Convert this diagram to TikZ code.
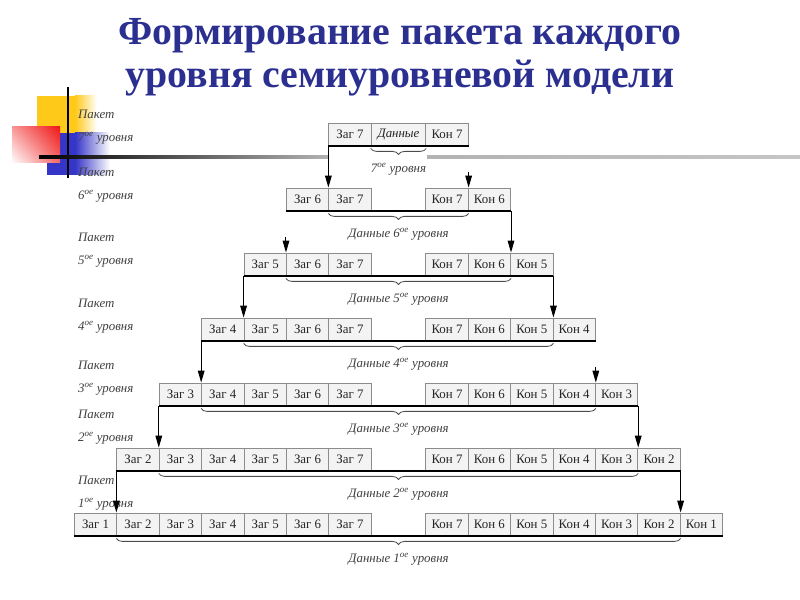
\documentclass[tikz,border=0pt]{standalone}
\usepackage{fontspec}
\setmainfont{Liberation Serif}
\usetikzlibrary{arrows.meta,calc,decorations.pathreplacing,shadings}
\definecolor{titelblue}{HTML}{2B2F8F}
\definecolor{paketbox}{HTML}{F3F3F3}
\definecolor{paketline}{HTML}{8C8C8C}
\definecolor{gelbdeko}{HTML}{FFC91A}
\definecolor{blaudeko}{HTML}{3535C8}
\definecolor{rotdeko}{HTML}{F01818}

\begin{document}
\begin{tikzpicture}[x=0.03cm, y=0.03cm,
  every node/.style={font=\fontsize{11}{13}\selectfont},
  titel/.style={font=\fontsize{34}{37}\selectfont\bfseries, text=titelblue, align=center},
  zelle/.style={draw=paketline, fill=paketbox, line width=0.25mm, minimum width=1.272cm,
    minimum height=0.69cm, inner sep=0pt, text=black!85},
  daten/.style={zelle, minimum width=1.638cm, font=\fontsize{11}{13}\selectfont\itshape},
  boden/.style={line width=0.6mm, black},
  rel/.style={-{Triangle[length=3.6mm, width=2mm]}, line width=0.3mm, black},
  klammer/.style={decorate, decoration={brace, mirror, amplitude=1.8mm}, line width=0.25mm, black!70},
  lbl/.style={font=\fontsize{11}{13}\selectfont\itshape, text=black!75},
  pakettext/.style={font=\fontsize{11}{19.5}\selectfont\itshape, align=left, anchor=west, text=black!75}
]
\useasboundingbox (0,0) rectangle (800,-600);
\fill[gelbdeko] (37,-96) rectangle (75,-133);
\shade[left color=gelbdeko, right color=white] (75,-96) rectangle (97,-133);
\fill[blaudeko] (47,-133) rectangle (75,-175);
\shade[left color=blaudeko, right color=white] (75,-133) rectangle (110,-175);
\shade[upper right=rotdeko, upper left=rotdeko!45, lower right=rotdeko!65, lower left=white] (12,-127) rectangle (60,-163);
\draw[line width=0.6mm, black] (68,-87) -- (68,-178);
\shade[left color=black, right color=gray!60] (39,-156) rectangle (329,-158.5);
\shade[left color=gray!60, right color=gray!45] (427,-156) rectangle (800,-158.5);
\node[titel] (Titel) at (400,-57) {Формирование пакета каждого\\уровня семиуровневой модели};
\node[pakettext] (Paket7) at (74,-127) {Пакет\\7\textsuperscript{ое} уровня};
\node[pakettext] (Paket6) at (74,-185) {Пакет\\6\textsuperscript{ое} уровня};
\node[pakettext] (Paket5) at (74,-250) {Пакет\\5\textsuperscript{ое} уровня};
\node[pakettext] (Paket4) at (74,-316) {Пакет\\4\textsuperscript{ое} уровня};
\node[pakettext] (Paket3) at (74,-378) {Пакет\\3\textsuperscript{ое} уровня};
\node[pakettext] (Paket2) at (74,-427) {Пакет\\2\textsuperscript{ое} уровня};
\node[pakettext] (Paket1) at (74,-493) {Пакет\\1\textsuperscript{ое} уровня};
\node[zelle] (Zag77) at (350.0,-134.5) {Заг 7};
\node[daten] (Dannye7) at (398.5,-134.5) {Данные};
\node[zelle] (Kon77) at (447.0,-134.5) {Кон 7};
\node[zelle] (Zag66) at (307.6,-199.5) {Заг 6};
\node[zelle] (Zag67) at (350.0,-199.5) {Заг 7};
\node[zelle] (Kon67) at (447.0,-199.5) {Кон 7};
\node[zelle] (Kon66) at (489.4,-199.5) {Кон 6};
\node[zelle] (Zag55) at (265.2,-264.5) {Заг 5};
\node[zelle] (Zag56) at (307.6,-264.5) {Заг 6};
\node[zelle] (Zag57) at (350.0,-264.5) {Заг 7};
\node[zelle] (Kon57) at (447.0,-264.5) {Кон 7};
\node[zelle] (Kon56) at (489.4,-264.5) {Кон 6};
\node[zelle] (Kon55) at (531.8,-264.5) {Кон 5};
\node[zelle] (Zag44) at (222.8,-329.5) {Заг 4};
\node[zelle] (Zag45) at (265.2,-329.5) {Заг 5};
\node[zelle] (Zag46) at (307.6,-329.5) {Заг 6};
\node[zelle] (Zag47) at (350.0,-329.5) {Заг 7};
\node[zelle] (Kon47) at (447.0,-329.5) {Кон 7};
\node[zelle] (Kon46) at (489.4,-329.5) {Кон 6};
\node[zelle] (Kon45) at (531.8,-329.5) {Кон 5};
\node[zelle] (Kon44) at (574.2,-329.5) {Кон 4};
\node[zelle] (Zag33) at (180.4,-394.5) {Заг 3};
\node[zelle] (Zag34) at (222.8,-394.5) {Заг 4};
\node[zelle] (Zag35) at (265.2,-394.5) {Заг 5};
\node[zelle] (Zag36) at (307.6,-394.5) {Заг 6};
\node[zelle] (Zag37) at (350.0,-394.5) {Заг 7};
\node[zelle] (Kon37) at (447.0,-394.5) {Кон 7};
\node[zelle] (Kon36) at (489.4,-394.5) {Кон 6};
\node[zelle] (Kon35) at (531.8,-394.5) {Кон 5};
\node[zelle] (Kon34) at (574.2,-394.5) {Кон 4};
\node[zelle] (Kon33) at (616.6,-394.5) {Кон 3};
\node[zelle] (Zag22) at (138.0,-459.5) {Заг 2};
\node[zelle] (Zag23) at (180.4,-459.5) {Заг 3};
\node[zelle] (Zag24) at (222.8,-459.5) {Заг 4};
\node[zelle] (Zag25) at (265.2,-459.5) {Заг 5};
\node[zelle] (Zag26) at (307.6,-459.5) {Заг 6};
\node[zelle] (Zag27) at (350.0,-459.5) {Заг 7};
\node[zelle] (Kon27) at (447.0,-459.5) {Кон 7};
\node[zelle] (Kon26) at (489.4,-459.5) {Кон 6};
\node[zelle] (Kon25) at (531.8,-459.5) {Кон 5};
\node[zelle] (Kon24) at (574.2,-459.5) {Кон 4};
\node[zelle] (Kon23) at (616.6,-459.5) {Кон 3};
\node[zelle] (Kon22) at (659.0,-459.5) {Кон 2};
\node[zelle] (Zag11) at (95.6,-524.5) {Заг 1};
\node[zelle] (Zag12) at (138.0,-524.5) {Заг 2};
\node[zelle] (Zag13) at (180.4,-524.5) {Заг 3};
\node[zelle] (Zag14) at (222.8,-524.5) {Заг 4};
\node[zelle] (Zag15) at (265.2,-524.5) {Заг 5};
\node[zelle] (Zag16) at (307.6,-524.5) {Заг 6};
\node[zelle] (Zag17) at (350.0,-524.5) {Заг 7};
\node[zelle] (Kon17) at (447.0,-524.5) {Кон 7};
\node[zelle] (Kon16) at (489.4,-524.5) {Кон 6};
\node[zelle] (Kon15) at (531.8,-524.5) {Кон 5};
\node[zelle] (Kon14) at (574.2,-524.5) {Кон 4};
\node[zelle] (Kon13) at (616.6,-524.5) {Кон 3};
\node[zelle] (Kon12) at (659.0,-524.5) {Кон 2};
\node[zelle] (Kon11) at (701.4,-524.5) {Кон 1};
\draw[boden] (Zag77.south west) -- (Kon77.south east);
\draw[boden] (Zag66.south west) -- (Kon66.south east);
\draw[boden] (Zag55.south west) -- (Kon55.south east);
\draw[boden] (Zag44.south west) -- (Kon44.south east);
\draw[boden] (Zag33.south west) -- (Kon33.south east);
\draw[boden] (Zag22.south west) -- (Kon22.south east);
\draw[boden] (Zag11.south west) -- (Kon11.south east);
\draw[klammer] ($(Dannye7.south west)+(0,-2)$) -- ($(Dannye7.south east)+(0,-2)$);
\node[lbl] (Daten7) at ($(Dannye7.south)+(0,-23)$) {7\textsuperscript{ое} уровня};
\draw[klammer] ($(Zag67.south west)+(0,-2)$) -- ($(Kon67.south east)+(0,-2)$);
\node[lbl] (Daten6) at ($(Zag67.south west)!0.5!(Kon67.south east)+(0,-23)$) {Данные 6\textsuperscript{ое} уровня};
\draw[klammer] ($(Zag56.south west)+(0,-2)$) -- ($(Kon56.south east)+(0,-2)$);
\node[lbl] (Daten5) at ($(Zag56.south west)!0.5!(Kon56.south east)+(0,-23)$) {Данные 5\textsuperscript{ое} уровня};
\draw[klammer] ($(Zag45.south west)+(0,-2)$) -- ($(Kon45.south east)+(0,-2)$);
\node[lbl] (Daten4) at ($(Zag45.south west)!0.5!(Kon45.south east)+(0,-23)$) {Данные 4\textsuperscript{ое} уровня};
\draw[klammer] ($(Zag34.south west)+(0,-2)$) -- ($(Kon34.south east)+(0,-2)$);
\node[lbl] (Daten3) at ($(Zag34.south west)!0.5!(Kon34.south east)+(0,-23)$) {Данные 3\textsuperscript{ое} уровня};
\draw[klammer] ($(Zag23.south west)+(0,-2)$) -- ($(Kon23.south east)+(0,-2)$);
\node[lbl] (Daten2) at ($(Zag23.south west)!0.5!(Kon23.south east)+(0,-23)$) {Данные 2\textsuperscript{ое} уровня};
\draw[klammer] ($(Zag12.south west)+(0,-2)$) -- ($(Kon12.south east)+(0,-2)$);
\node[lbl] (Daten1) at ($(Zag12.south west)!0.5!(Kon12.south east)+(0,-23)$) {Данные 1\textsuperscript{ое} уровня};
\coordinate (Start67) at ($(Kon67.north east)+(0,16)$);
\coordinate (Start56) at ($(Zag56.north west)+(0,16)$);
\coordinate (Start34) at ($(Kon34.north east)+(0,16)$);
\draw[rel] (Zag77.south west) -- (Zag67.north west);
\draw[rel] (Start67) -- (Kon67.north east);
\draw[rel] (Start56) -- (Zag56.north west);
\draw[rel] (Kon66.south east) -- (Kon56.north east);
\draw[rel] (Zag55.south west) -- (Zag45.north west);
\draw[rel] (Kon55.south east) -- (Kon45.north east);
\draw[rel] (Zag44.south west) -- (Zag34.north west);
\draw[rel] (Start34) -- (Kon34.north east);
\draw[rel] (Zag33.south west) -- (Zag23.north west);
\draw[rel] (Kon33.south east) -- (Kon23.north east);
\draw[rel] (Zag22.south west) -- (Zag12.north west);
\draw[rel] (Kon22.south east) -- (Kon12.north east);
\end{tikzpicture}
\end{document}
